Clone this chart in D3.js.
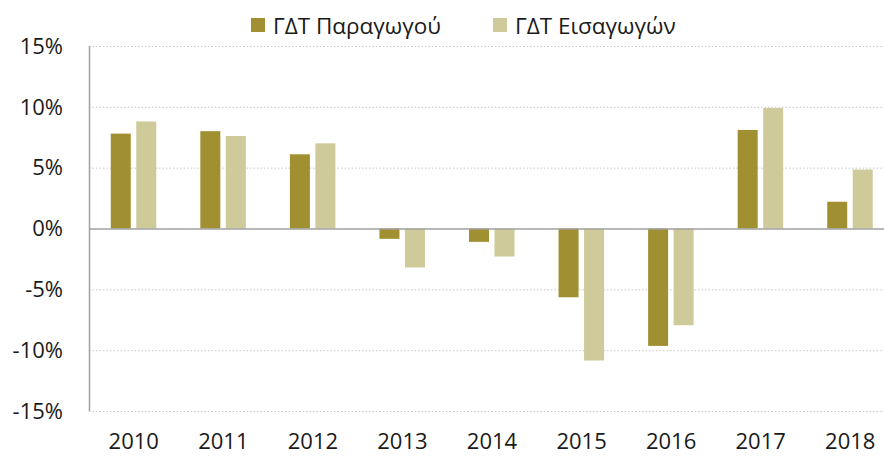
<!DOCTYPE html>
<html>
<head>
<meta charset="utf-8">
<script src="https://cdn.jsdelivr.net/npm/d3@7"></script>
<style>
  body { margin: 0; background: #fff; }
  svg { font-family: "Open Sans", "Noto Sans", sans-serif; }
</style>
</head>
<body>
<div id="chart"></div>
<script>
const years = ["2010", "2011", "2012", "2013", "2014", "2015", "2016", "2017", "2018"];
const producer = [7.8, 8.0, 6.1, -0.85, -1.1, -5.65, -9.65, 8.1, 2.2];   // ΓΔΤ Παραγωγού
const imports = [8.8, 7.6, 7.0, -3.2, -2.3, -10.85, -7.95, 9.9, 4.85];  // ΓΔΤ Εισαγωγών
const seriesNames = ["ΓΔΤ Παραγωγού", "ΓΔΤ Εισαγωγών"];
const yTicks = [-15, -10, -5, 0, 5, 10, 15];

const colors = ["#a09032", "#cfca99"];
const width = 884, height = 456;
const margin = { left: 89, right: -11, top: 46, bottom: 45 };

const svg = d3.select("#chart").append("svg")
    .attr("width", width)
    .attr("height", height);

const x = d3.scaleBand()
    .domain(years)
    .range([margin.left, width - margin.right]);

const y = d3.scaleLinear()
    .domain([-15, 15])
    .range([height - margin.bottom, margin.top]);

// dotted gridlines
svg.append("g")
    .selectAll("line")
    .data(yTicks.filter(d => d !== 0))
    .join("line")
    .attr("x1", margin.left)
    .attr("x2", width)
    .attr("y1", d => y(d) + 0.5)
    .attr("y2", d => y(d) + 0.5)
    .attr("stroke", "#c8c8c8")
    .attr("stroke-width", 1)
    .attr("stroke-dasharray", "1.5,2");

// y tick labels
svg.append("g")
    .selectAll("text")
    .data(yTicks)
    .join("text")
    .attr("x", 63)
    .attr("y", d => y(d))
    .attr("dy", "0.35em")
    .attr("text-anchor", "end")
    .attr("font-size", 22)
    .attr("fill", "#1a1a1a")
    .text(d => d + "%");

// bars
const barW = 20;
const offsets = [-13 - barW / 2, 12.5 - barW / 2];
[producer, imports].forEach((vals, si) => {
    svg.append("g")
        .selectAll("rect")
        .data(vals)
        .join("rect")
        .attr("x", (d, i) => x(years[i]) + x.bandwidth() / 2 + offsets[si])
        .attr("y", d => y(Math.max(0, d)))
        .attr("width", barW)
        .attr("height", d => Math.abs(y(d) - y(0)))
        .attr("fill", colors[si]);
});

// left axis line and zero line
svg.append("line")
    .attr("x1", margin.left + 0.5).attr("x2", margin.left + 0.5)
    .attr("y1", y(15)).attr("y2", y(-15))
    .attr("stroke", "#a0a0a0").attr("stroke-width", 1.5);
svg.append("line")
    .attr("x1", margin.left).attr("x2", width)
    .attr("y1", y(0) + 0.5).attr("y2", y(0) + 0.5)
    .attr("stroke", "#a0a0a0").attr("stroke-width", 1.5);

// x labels
svg.append("g")
    .selectAll("text")
    .data(years)
    .join("text")
    .attr("x", d => x(d) + x.bandwidth() / 2)
    .attr("y", 449)
    .attr("text-anchor", "middle")
    .attr("font-size", 22)
    .attr("fill", "#1a1a1a")
    .text(d => d);

// legend
const legendX = [251, 493];
const legend = svg.append("g")
    .selectAll("g")
    .data(seriesNames)
    .join("g")
    .attr("transform", (d, i) => `translate(${legendX[i]},18)`);
legend.append("rect")
    .attr("width", 14).attr("height", 14)
    .attr("fill", (d, i) => colors[i]);
legend.append("text")
    .attr("x", 22)
    .attr("y", 8)
    .attr("dy", "0.35em")
    .attr("font-size", 22.5)
    .attr("fill", "#1a1a1a")
    .text(d => d);
</script>
</body>
</html>
